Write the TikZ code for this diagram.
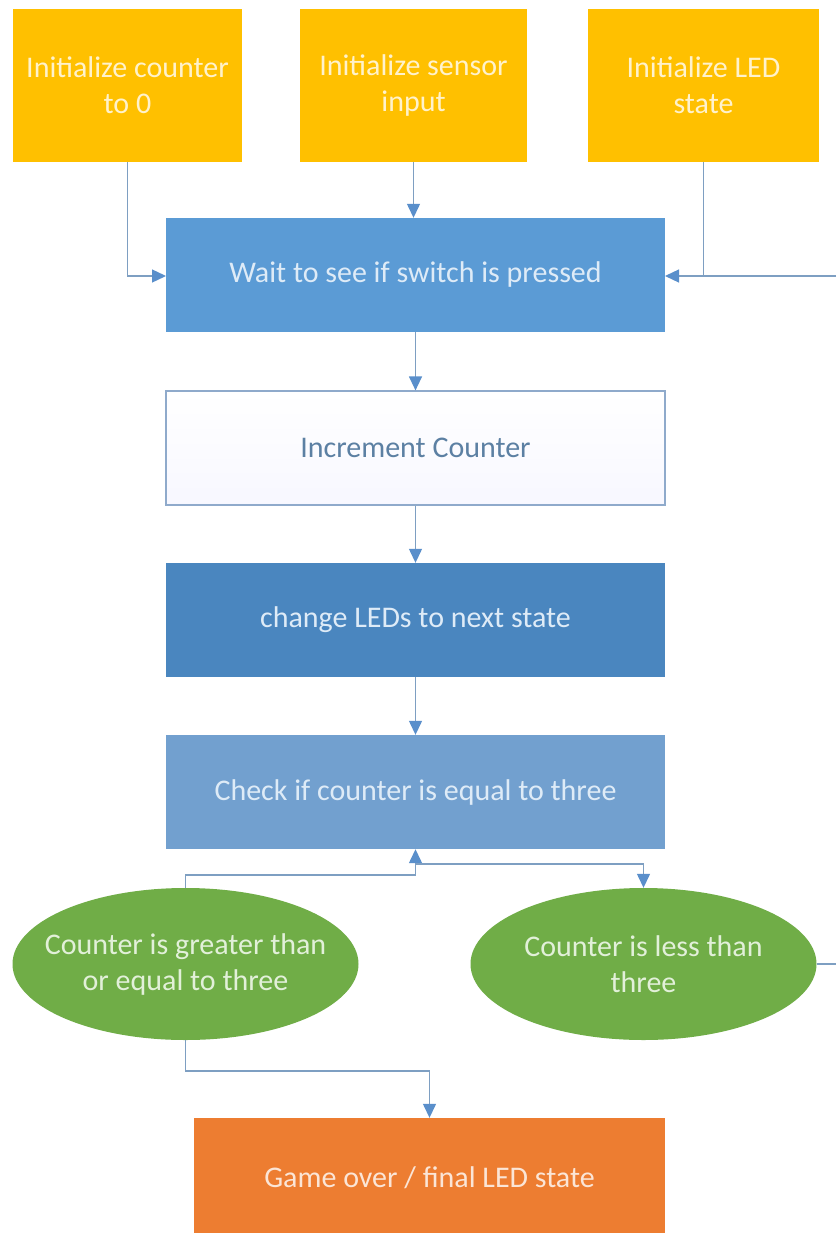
\documentclass[tikz,border=0pt]{standalone}
\usepackage{fontspec}
\setmainfont{Carlito}
\usetikzlibrary{arrows.meta,shapes.geometric}
\definecolor{initfill}{HTML}{FFC000}
\definecolor{inittext}{HTML}{FFF2CC}
\definecolor{waitfill}{HTML}{5B9BD5}
\definecolor{ledfill}{HTML}{4A86BF}
\definecolor{checkfill}{HTML}{72A0CF}
\definecolor{bluetext}{HTML}{DEEBF7}
\definecolor{incrline}{HTML}{8FAACB}
\definecolor{incrtext}{HTML}{5C80A3}
\definecolor{greenfill}{HTML}{70AD47}
\definecolor{greentext}{HTML}{E2F0D9}
\definecolor{orangefill}{HTML}{ED7D31}
\definecolor{orangetext}{HTML}{FBE5D6}
\definecolor{linkline}{HTML}{7E9FC2}
\definecolor{linktip}{HTML}{5A8FCB}
\tikzset{
  txt/.style={font=\fontsize{30}{36}\selectfont, align=center, inner sep=0pt},
  initbox/.style={txt, fill=initfill, text=inittext, minimum height=153pt},
  stagebox/.style={txt, minimum width=499pt, minimum height=114pt},
  bluebox/.style={stagebox, text=bluetext},
  outcome/.style={ellipse, fill=greenfill, inner sep=0pt, minimum width=346pt, minimum height=152pt},
  outcometext/.style={txt, text=greentext},
  link/.style={draw=linkline, line width=1.3pt, -{Triangle[length=14pt,width=13pt,color=linktip]}},
  plainlink/.style={draw=linkline, line width=1.3pt},
}
\begin{document}
\begin{tikzpicture}[x=1pt,y=-1pt]
  \useasboundingbox[fill=white] (0,0) rectangle (836,1233);

  % initialisation steps
  \node[initbox, minimum width=229pt] (initc) at (127.5,85.5) {Initialize counter\\to 0};
  \node[initbox, minimum width=227pt] (inits) at (413.5,85.5) {Initialize sensor\\input};
  \node[initbox, minimum width=231pt] (initl) at (703.5,85.5) {Initialize LED\\state};

  % main loop
  \node[bluebox, fill=waitfill] (wait) at (415.5,275) {Wait to see if switch is pressed};
  \node[stagebox, draw=incrline, line width=1.2pt, text=incrtext,
        top color=white, bottom color=blue!3] (incr) at (415.5,448) {Increment Counter};
  \node[bluebox, fill=ledfill] (leds) at (415.5,620) {change LEDs to next state};
  \node[bluebox, fill=checkfill] (check) at (415.5,792) {Check if counter is equal to three};

  % outcomes
  \node[outcome] (geq) at (185.5,964) {};
  \node[outcometext] (geqtext) at (geq.center) {Counter is greater than\\or equal to three};
  \node[outcome] (less) at (643.5,964) {};
  \node[outcometext] (lesstext) at (less.center) {Counter is less than\\three};

  \node[txt, fill=orangefill, text=orangetext, minimum width=471pt, minimum height=120pt]
        (final) at (429.5,1178) {Game over / final LED state};

  % loop return path enters from the right edge
  \coordinate (backin) at (836,276);
  \coordinate (backout) at (836,964);
  \coordinate (split) at (416,864);

  % connectors
  \draw[link] (initc.south) |- (166,276);
  \draw[link] (inits.south) -- (wait.north -| inits.south);
  \draw[plainlink] (initl.south) -- (initl.south |- backin);
  \draw[link] (backin) -- (665,276);
  \draw[link] (wait.south) -- (incr.north);
  \draw[link] (incr.south) -- (leds.north);
  \draw[link] (leds.south) -- (check.north);
  \draw[link] (geq.north) -- (185.5,875) -| (check.south);
  \draw[link] (split) -| (less.north);
  \draw[plainlink] (less.east) -- (backout);
  \draw[link] (geq.south) -- (185.5,1071) -| (final.north);
\end{tikzpicture}
\end{document}
